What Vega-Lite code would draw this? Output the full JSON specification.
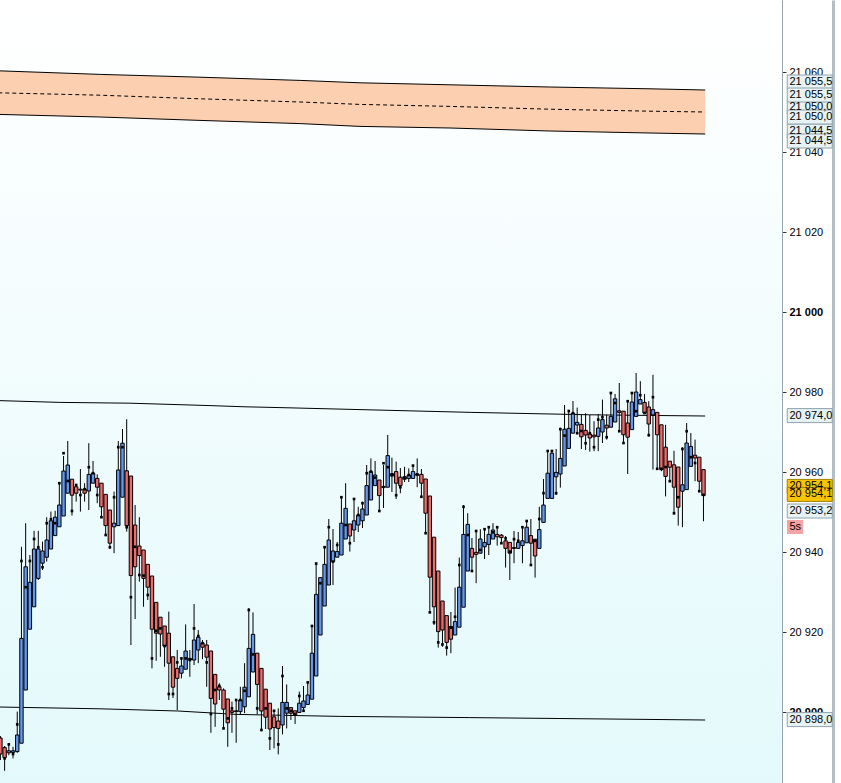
{
  "$schema": "https://vega.github.io/schema/vega-lite/v6.json",
  "width": 782,
  "height": 783,
  "autosize": {"type": "none"},
  "padding": {"left": 0, "top": 0, "right": 59, "bottom": 0},
  "background": "#ffffff",
  "view": {"stroke": null, "fill": {"gradient": "linear", "x1": 0, "y1": 0, "x2": 0, "y2": 1, "stops": [{"offset": 0, "color": "#ffffff"}, {"offset": 1, "color": "#e3f9fb"}]}},
  "config": {
    "axis": {"labelFont": "Liberation Sans", "labelFontSize": 11, "labelColor": "#000000"},
    "text": {"font": "Liberation Sans", "fontSize": 11}
  },
  "datasets": {
    "candles": [
      {"i":0,"o":20893.5,"h":20894,"l":20888,"c":20889.5},
      {"i":1,"o":20891.1,"h":20891.5,"l":20885.3,"c":20888.6,"m":20888.4},
      {"i":2,"o":20889.8,"h":20892.2,"l":20889.2,"c":20890.3,"m":20891.9},
      {"i":3,"o":20889.9,"h":20891.3,"l":20888.4,"c":20890.3,"m":20889.5},
      {"i":4,"o":20890.1,"h":20900.1,"l":20889.8,"c":20894.25,"m":20896.9},
      {"i":5,"o":20892.2,"h":20941.3,"l":20892.2,"c":20918.4,"m":20937.75},
      {"i":6,"o":20905.5,"h":20947.2,"l":20905.5,"c":20936.3,"m":20931.2},
      {"i":7,"o":20920.7,"h":20939.25,"l":20920.7,"c":20932.4,"m":20937.75},
      {"i":8,"o":20926.3,"h":20945.3,"l":20926.3,"c":20940.75,"m":20943.25},
      {"i":9,"o":20933.4,"h":20945.3,"l":20933,"c":20940.75,"m":20941.2},
      {"i":10,"o":20937.2,"h":20942.6,"l":20935.5,"c":20940.25,"m":20936.2},
      {"i":11,"o":20938.7,"h":20948.7,"l":20937.6,"c":20943,"m":20947.2},
      {"i":12,"o":20940.75,"h":20950.1,"l":20940.75,"c":20947.8,"m":20948.2},
      {"i":13,"o":20944.1,"h":20950.3,"l":20944.1,"c":20948.7,"m":20947.2},
      {"i":14,"o":20946.3,"h":20957.2,"l":20946.3,"c":20951.75,"m":20957.2},
      {"i":15,"o":20949,"h":20964,"l":20949,"c":20960.25,"m":20964.7},
      {"i":16,"o":20954.7,"h":20967.75,"l":20954.7,"c":20961.75,"m":20957.75},
      {"i":17,"o":20958.2,"h":20958.2,"l":20949.1,"c":20954.2,"m":20950.25},
      {"i":18,"o":20956.3,"h":20956.75,"l":20952.6,"c":20954.7,"m":20956.75},
      {"i":19,"o":20955.5,"h":20960.75,"l":20950.1,"c":20955.7,"m":20954.25},
      {"i":20,"o":20955.7,"h":20957.2,"l":20952.6,"c":20954.7,"m":20955.7},
      {"i":21,"o":20955.25,"h":20967.2,"l":20950.5,"c":20959.4,"m":20961.2},
      {"i":22,"o":20957.2,"h":20962.75,"l":20957.2,"c":20959.7,"m":20959.7},
      {"i":23,"o":20958.4,"h":20959.4,"l":20952.2,"c":20956.2,"m":20954.25},
      {"i":24,"o":20957.2,"h":20957.2,"l":20948.7,"c":20951.3,"m":20948.7},
      {"i":25,"o":20954.4,"h":20954.4,"l":20944.25,"c":20946.6,"m":20944.25},
      {"i":26,"o":20950.5,"h":20950.5,"l":20940.75,"c":20942.2,"m":20941.2},
      {"i":27,"o":20946.3,"h":20955.1,"l":20939.7,"c":20947.2,"m":20953.7},
      {"i":28,"o":20946.6,"h":20967.75,"l":20946.6,"c":20960.5,"m":20966.2},
      {"i":29,"o":20953.7,"h":20970.75,"l":20953.7,"c":20967.2,"m":20966.2},
      {"i":30,"o":20960.3,"h":20973.2,"l":20945.1,"c":20946.6,"m":20946.2},
      {"i":31,"o":20959,"h":20959,"l":20916.75,"c":20934.1,"m":20928.7},
      {"i":32,"o":20946.75,"h":20951.75,"l":20923.25,"c":20936.3,"m":20941.3},
      {"i":33,"o":20941.5,"h":20948.7,"l":20932.6,"c":20939.1,"m":20934.25},
      {"i":34,"o":20940.5,"h":20940.5,"l":20926.3,"c":20933.4,"m":20934.1},
      {"i":35,"o":20936.9,"h":20936.9,"l":20928,"c":20931.2,"m":20929.25},
      {"i":36,"o":20934,"h":20934,"l":20910.9,"c":20920.7,"m":20913.4},
      {"i":37,"o":20927.4,"h":20927.4,"l":20912.8,"c":20919.7,"m":20920.3},
      {"i":38,"o":20923.7,"h":20923.7,"l":20913.8,"c":20919.5,"m":20920.9},
      {"i":39,"o":20921.5,"h":20921.5,"l":20911.3,"c":20916.5,"m":20916.5},
      {"i":40,"o":20919.7,"h":20925.1,"l":20903,"c":20912.2,"m":20904.5},
      {"i":41,"o":20913.8,"h":20913.8,"l":20903.5,"c":20906.2,"m":20904.5},
      {"i":42,"o":20910.9,"h":20915.5,"l":20900.5,"c":20908.4,"m":20912.4},
      {"i":43,"o":20909.7,"h":20913.4,"l":20908.4,"c":20911.5,"m":20913.4},
      {"i":44,"o":20910.7,"h":20921.9,"l":20910.7,"c":20915.25,"m":20913.4},
      {"i":45,"o":20913.4,"h":20915.5,"l":20908.8,"c":20913,"m":20913},
      {"i":46,"o":20913,"h":20927,"l":20911.75,"c":20918,"m":20920.9},
      {"i":47,"o":20915.5,"h":20920.5,"l":20912.2,"c":20918.7,"m":20919},
      {"i":48,"o":20917.2,"h":20918,"l":20913.2,"c":20916.2,"m":20917.2},
      {"i":49,"o":20916.75,"h":20918,"l":20906.3,"c":20913.7,"m":20912.4},
      {"i":50,"o":20915.25,"h":20915.25,"l":20894.8,"c":20903.4,"m":20899.5},
      {"i":51,"o":20909.4,"h":20909.4,"l":20896.3,"c":20902,"m":20905.5},
      {"i":52,"o":20906.3,"h":20907.2,"l":20903,"c":20905.5,"m":20906.5},
      {"i":53,"o":20905.5,"h":20905.9,"l":20895.9,"c":20900.7,"m":20895.9},
      {"i":54,"o":20903.25,"h":20903.25,"l":20891.3,"c":20897.3,"m":20898.4},
      {"i":55,"o":20900.3,"h":20902.6,"l":20894.8,"c":20899.9,"m":20900.9},
      {"i":56,"o":20900.1,"h":20902.9,"l":20892.3,"c":20900.3,"m":20903},
      {"i":57,"o":20900.1,"h":20906.3,"l":20899.5,"c":20903,"m":20903},
      {"i":58,"o":20901.3,"h":20912.2,"l":20899.7,"c":20906.2,"m":20905.3},
      {"i":59,"o":20903.8,"h":20926,"l":20903.8,"c":20915.9,"m":20925.5},
      {"i":60,"o":20910,"h":20924.9,"l":20910,"c":20919.4,"m":20914.4},
      {"i":61,"o":20914.7,"h":20914.7,"l":20899.4,"c":20906.9,"m":20900.9},
      {"i":62,"o":20910.9,"h":20910.9,"l":20895.75,"c":20900.25,"m":20895.5},
      {"i":63,"o":20905.7,"h":20905.7,"l":20895.75,"c":20898.7,"m":20900.9},
      {"i":64,"o":20902.2,"h":20902.2,"l":20890.5,"c":20895.75,"m":20893.4},
      {"i":65,"o":20898.8,"h":20900.5,"l":20890.9,"c":20896.1,"m":20900.3},
      {"i":66,"o":20897.75,"h":20900.9,"l":20889.4,"c":20895.9,"m":20891.9},
      {"i":67,"o":20896.75,"h":20911.5,"l":20894.4,"c":20902.4,"m":20909},
      {"i":68,"o":20899.7,"h":20906.9,"l":20895.9,"c":20902.4,"m":20900.9},
      {"i":69,"o":20901.1,"h":20901.1,"l":20898,"c":20899.7,"m":20900.3},
      {"i":70,"o":20900.3,"h":20900.3,"l":20897,"c":20899.25,"m":20899.5},
      {"i":71,"o":20899.9,"h":20905.1,"l":20899.9,"c":20902.2,"m":20904},
      {"i":72,"o":20901.1,"h":20906.5,"l":20900,"c":20902.75,"m":20900.3},
      {"i":73,"o":20901.9,"h":20907.4,"l":20901.9,"c":20904.25,"m":20907.4},
      {"i":74,"o":20903.2,"h":20921.5,"l":20903.2,"c":20914.7,"m":20921.5},
      {"i":75,"o":20909,"h":20937.4,"l":20909,"c":20929.4,"m":20937.1},
      {"i":76,"o":20919.25,"h":20933.6,"l":20919.25,"c":20933.6,"m":20932.2},
      {"i":77,"o":20926.5,"h":20941.2,"l":20926.5,"c":20936.9,"m":20941.2},
      {"i":78,"o":20931.75,"h":20948.25,"l":20931.75,"c":20943,"m":20946.2},
      {"i":79,"o":20937.6,"h":20945.75,"l":20931.75,"c":20940.25,"m":20937.6},
      {"i":80,"o":20938.7,"h":20942.5,"l":20938.7,"c":20940.1,"m":20941.75},
      {"i":81,"o":20939.25,"h":20953.7,"l":20939.25,"c":20947.2,"m":20953.7},
      {"i":82,"o":20943.25,"h":20957.2,"l":20943.25,"c":20950.9,"m":20946.75},
      {"i":83,"o":20947,"h":20947,"l":20940.1,"c":20944,"m":20942.2},
      {"i":84,"o":20945.5,"h":20953.4,"l":20942.5,"c":20947.8,"m":20953.25},
      {"i":85,"o":20946.75,"h":20951.3,"l":20945,"c":20949.2,"m":20949.25},
      {"i":86,"o":20947.8,"h":20952.6,"l":20946,"c":20950.75,"m":20952.2},
      {"i":87,"o":20949.25,"h":20961.75,"l":20949.25,"c":20956.6,"m":20959.7},
      {"i":88,"o":20953,"h":20963.4,"l":20953,"c":20960.1,"m":20960.1},
      {"i":89,"o":20956.6,"h":20962.75,"l":20956.6,"c":20959.25,"m":20958.6},
      {"i":90,"o":20958,"h":20958,"l":20950.25,"c":20954.1,"m":20950.25},
      {"i":91,"o":20956.1,"h":20961.75,"l":20951,"c":20956.4,"m":20962.2},
      {"i":92,"o":20956.2,"h":20969.25,"l":20956.2,"c":20964.1,"m":20961.2},
      {"i":93,"o":20959,"h":20963.6,"l":20955,"c":20959.6,"m":20959.25},
      {"i":94,"o":20960.1,"h":20962.6,"l":20953.25,"c":20957.2,"m":20954.2},
      {"i":95,"o":20958.7,"h":20961,"l":20954.7,"c":20956.6,"m":20956.2},
      {"i":96,"o":20958.2,"h":20961.3,"l":20957.5,"c":20958.8,"m":20958.6},
      {"i":97,"o":20958.4,"h":20960.9,"l":20957.5,"c":20959.2,"m":20959.25},
      {"i":98,"o":20958.4,"h":20961.6,"l":20958.4,"c":20960.1,"m":20961.6},
      {"i":99,"o":20959.2,"h":20963.4,"l":20956.2,"c":20959.5,"m":20959.4},
      {"i":100,"o":20959.4,"h":20960.75,"l":20953.8,"c":20957.2,"m":20953.8},
      {"i":101,"o":20958.25,"h":20958.25,"l":20944.7,"c":20949.7,"m":20944.7},
      {"i":102,"o":20954,"h":20954,"l":20924.9,"c":20933.7,"m":20924.9},
      {"i":103,"o":20943.7,"h":20943.7,"l":20921.75,"c":20926.3,"m":20922.4},
      {"i":104,"o":20935.25,"h":20935.25,"l":20916.1,"c":20920.1,"m":20917.4},
      {"i":105,"o":20927.75,"h":20927.75,"l":20916.3,"c":20920.5,"m":20916.9},
      {"i":106,"o":20924.1,"h":20924.1,"l":20914.1,"c":20917.4,"m":20916.1},
      {"i":107,"o":20921.4,"h":20925,"l":20914.7,"c":20918.2,"m":20921.1},
      {"i":108,"o":20919.25,"h":20931.1,"l":20919.25,"c":20922.6,"m":20923.8},
      {"i":109,"o":20921.2,"h":20938.6,"l":20921.2,"c":20931.2,"m":20936.75},
      {"i":110,"o":20926.2,"h":20951.75,"l":20926.2,"c":20944.4,"m":20951.3},
      {"i":111,"o":20935.25,"h":20949.7,"l":20935.25,"c":20946.9,"m":20944.25},
      {"i":112,"o":20940.9,"h":20943.5,"l":20935,"c":20938.7,"m":20935.25},
      {"i":113,"o":20939.9,"h":20945.5,"l":20932.2,"c":20939.4,"m":20945.25},
      {"i":114,"o":20939.7,"h":20945.7,"l":20939.7,"c":20943.25,"m":20940.5},
      {"i":115,"o":20941.3,"h":20945.7,"l":20938.25,"c":20942.4,"m":20945.7},
      {"i":116,"o":20941.9,"h":20946.5,"l":20939.25,"c":20944.4,"m":20946.2},
      {"i":117,"o":20943.25,"h":20947.2,"l":20943.25,"c":20945.5,"m":20944.9},
      {"i":118,"o":20944.4,"h":20946.2,"l":20941.6,"c":20943.8,"m":20946.2},
      {"i":119,"o":20944.2,"h":20944.5,"l":20942.2,"c":20943.6,"m":20942.2},
      {"i":120,"o":20942.8,"h":20944,"l":20936.1,"c":20940.9,"m":20943.4},
      {"i":121,"o":20942.4,"h":20942.4,"l":20933,"c":20939.7,"m":20940.1},
      {"i":122,"o":20940.9,"h":20945.25,"l":20937.2,"c":20941.1,"m":20943.2},
      {"i":123,"o":20940.9,"h":20945,"l":20940.9,"c":20942.4,"m":20942.8},
      {"i":124,"o":20941.6,"h":20946.2,"l":20937.2,"c":20942.8,"m":20946.2},
      {"i":125,"o":20942.3,"h":20948,"l":20942.3,"c":20946.2,"m":20947.75},
      {"i":126,"o":20944.1,"h":20948.25,"l":20936.75,"c":20942.2,"m":20936.75},
      {"i":127,"o":20943.2,"h":20943.2,"l":20933.6,"c":20939,"m":20942.8},
      {"i":128,"o":20940.9,"h":20951.3,"l":20940.9,"c":20945.6,"m":20948.25},
      {"i":129,"o":20947.4,"h":20958.25,"l":20947.4,"c":20951.75,"m":20954.7},
      {"i":130,"o":20953.4,"h":20965.25,"l":20953.4,"c":20959.7,"m":20965.25},
      {"i":131,"o":20953.4,"h":20965.5,"l":20953.4,"c":20964.7,"m":20965.25},
      {"i":132,"o":20958.8,"h":20965.75,"l":20954.25,"c":20959.9,"m":20954.7},
      {"i":133,"o":20959.5,"h":20971.1,"l":20956.1,"c":20963.4,"m":20970.7},
      {"i":134,"o":20961.5,"h":20976.75,"l":20961.5,"c":20970.7,"m":20969.1},
      {"i":135,"o":20965.9,"h":20975.5,"l":20965.9,"c":20970.9,"m":20975.25},
      {"i":136,"o":20969.7,"h":20977.75,"l":20969.7,"c":20974.7,"m":20974.7},
      {"i":137,"o":20971.75,"h":20976.1,"l":20969.5,"c":20972.4,"m":20969.7},
      {"i":138,"o":20971.9,"h":20974.25,"l":20965.75,"c":20968.8,"m":20970.25},
      {"i":139,"o":20970.4,"h":20974.7,"l":20965.5,"c":20969.25,"m":20967.2},
      {"i":140,"o":20969.5,"h":20974.25,"l":20965.1,"c":20968.5,"m":20969.7},
      {"i":141,"o":20969.2,"h":20972.7,"l":20965.2,"c":20968.8,"m":20966.2},
      {"i":142,"o":20968.9,"h":20974.5,"l":20965.2,"c":20971,"m":20973.1},
      {"i":143,"o":20970,"h":20978.1,"l":20967.25,"c":20973.1,"m":20973.7},
      {"i":144,"o":20971.7,"h":20974.3,"l":20968.1,"c":20971,"m":20968.7},
      {"i":145,"o":20971.2,"h":20979.75,"l":20971.2,"c":20973.9,"m":20979.75},
      {"i":146,"o":20972.5,"h":20979.5,"l":20972.5,"c":20978.3,"m":20977.25},
      {"i":147,"o":20975.3,"h":20982.25,"l":20970.2,"c":20974.9,"m":20970.2},
      {"i":148,"o":20975.2,"h":20975.2,"l":20967.25,"c":20969.3,"m":20967.25},
      {"i":149,"o":20972.25,"h":20977.7,"l":20959.5,"c":20968.7,"m":20977.7},
      {"i":150,"o":20970.6,"h":20979.75,"l":20970.6,"c":20977.5,"m":20979.75},
      {"i":151,"o":20973.9,"h":20984.75,"l":20973.9,"c":20980,"m":20975.2},
      {"i":152,"o":20977,"h":20982.7,"l":20977,"c":20978.1,"m":20979.2},
      {"i":153,"o":20977.4,"h":20979.5,"l":20974.75,"c":20974.75,"m":20974.75},
      {"i":154,"o":20976.25,"h":20977.7,"l":20968.9,"c":20972,"m":20969.2},
      {"i":155,"o":20974.3,"h":20984.3,"l":20960.6,"c":20975.6,"m":20978.7},
      {"i":156,"o":20974.9,"h":20974.9,"l":20960.6,"c":20969.3,"m":20960.8},
      {"i":157,"o":20971.8,"h":20971.8,"l":20960.2,"c":20960.6,"m":20960.8},
      {"i":158,"o":20966.2,"h":20971.8,"l":20953.9,"c":20958.9,"m":20961.25},
      {"i":159,"o":20962.7,"h":20962.7,"l":20957.7,"c":20961.2,"m":20957.7},
      {"i":160,"o":20961.8,"h":20965.3,"l":20949.3,"c":20956.2,"m":20949.7},
      {"i":161,"o":20961.25,"h":20961.25,"l":20946.6,"c":20951.2,"m":20953.7},
      {"i":162,"o":20955.2,"h":20966.2,"l":20946.2,"c":20956.8,"m":20965.75},
      {"i":163,"o":20955.6,"h":20972.25,"l":20955.6,"c":20967.25,"m":20970.2},
      {"i":164,"o":20961.4,"h":20969.75,"l":20961.4,"c":20966.4,"m":20963.7},
      {"i":165,"o":20964.2,"h":20968.1,"l":20957.7,"c":20963.5,"m":20962.25},
      {"i":166,"o":20963.7,"h":20963.7,"l":20955.2,"c":20957.7,"m":20955.2},
      {"i":167,"o":20960.6,"h":20960.6,"l":20947.7,"c":20954.1,"m":20954.3}
    ],
    "band": [
      {"i":-0.5,"u":21060.3,"md":21054.8,"lo":21049.4},
      {"i":23.7,"u":21059.4,"md":21054.2,"lo":21048.75},
      {"i":47.4,"u":21058.7,"md":21053.3,"lo":21047.9},
      {"i":71.2,"u":21057.9,"md":21052.5,"lo":21047.1},
      {"i":85.4,"u":21057.3,"md":21051.9,"lo":21046.4},
      {"i":106.8,"u":21056.8,"md":21051.4,"lo":21046.0},
      {"i":130.5,"u":21056.25,"md":21050.7,"lo":21045.25},
      {"i":154.3,"u":21055.8,"md":21050.2,"lo":21044.75},
      {"i":167.4,"u":21055.5,"md":21050.0,"lo":21044.5}
    ],
    "chan": [
      {"g":"up","i":-0.5,"v":20977.85},
      {"g":"up","i":14.2,"v":20977.4},
      {"g":"up","i":30.8,"v":20977.2},
      {"g":"up","i":40.3,"v":20976.9},
      {"g":"up","i":49.8,"v":20976.6},
      {"g":"up","i":58.1,"v":20976.3},
      {"g":"up","i":66.4,"v":20976.1},
      {"g":"up","i":112,"v":20974.9},
      {"g":"up","i":140,"v":20974.3},
      {"g":"up","i":167.4,"v":20974.0},
      {"g":"dn","i":-0.5,"v":20901.25},
      {"g":"dn","i":23.7,"v":20900.8},
      {"g":"dn","i":42.2,"v":20900.25},
      {"g":"dn","i":56,"v":20899.4},
      {"g":"dn","i":80.7,"v":20898.9},
      {"g":"dn","i":111.5,"v":20898.6},
      {"g":"dn","i":167.4,"v":20898.0}
    ],
    "tags": [
      {"p":21051.25,"t":"21 050,0","k":"n"},
      {"p":21045.25,"t":"21 044,5","k":"n"},
      {"p":21057.5,"t":"21 055,5","k":"n"},
      {"p":21054.25,"t":"21 055,5","k":"n"},
      {"p":21048.75,"t":"21 050,0","k":"n"},
      {"p":21042.75,"t":"21 044,5","k":"n"},
      {"p":20974.1,"t":"20 974,0","k":"n"},
      {"p":20956.4,"t":"20 954,1","k":"y"},
      {"p":20954.4,"t":"20 954,1","k":"y"},
      {"p":20950.25,"t":"20 953,2","k":"n"},
      {"p":20898.1,"t":"20 898,0","k":"n"}
    ],
    "small": [
      {"p":20946.25,"t":"5s"}
    ]
  },
  "resolve": {"axis": {"y": "independent"}},
  "layer": [
    {
      "data": {"name": "band"},
      "mark": {"type": "area", "fill": "#fccfb0", "opacity": 1, "clip": true},
      "encoding": {
        "x": {"field": "i", "type": "quantitative", "scale": {"domain": [-0.095, 185.65], "nice": false, "zero": false, "padding": 0}, "axis": null},
        "y": {"field": "u", "type": "quantitative", "scale": {"domain": [20882.25, 21078], "nice": false, "zero": false, "padding": 0},
              "axis": {"orient": "right", "offset": 51, "labels": false, "ticks": false, "grid": false, "title": null, "domainColor": "#b4bec6", "domainWidth": 3}},
        "y2": {"field": "lo"}
      }
    },
    {
      "data": {"name": "band"},
      "mark": {"type": "line", "stroke": "#000000", "strokeWidth": 1, "clip": true},
      "encoding": {
        "x": {"field": "i", "type": "quantitative", "axis": null},
        "y": {"field": "u", "type": "quantitative", "axis": null}
      }
    },
    {
      "data": {"name": "band"},
      "mark": {"type": "line", "stroke": "#000000", "strokeWidth": 1, "clip": true},
      "encoding": {
        "x": {"field": "i", "type": "quantitative", "axis": null},
        "y": {"field": "lo", "type": "quantitative", "axis": null}
      }
    },
    {
      "data": {"name": "band"},
      "mark": {"type": "line", "stroke": "#000000", "strokeWidth": 1, "strokeDash": [4, 3], "clip": true},
      "encoding": {
        "x": {"field": "i", "type": "quantitative", "axis": null},
        "y": {"field": "md", "type": "quantitative", "axis": null}
      }
    },
    {
      "data": {"name": "chan"},
      "mark": {"type": "line", "stroke": "#000000", "strokeWidth": 1, "clip": true},
      "encoding": {
        "x": {"field": "i", "type": "quantitative", "axis": null},
        "y": {"field": "v", "type": "quantitative", "axis": null},
        "detail": {"field": "g"}
      }
    },
    {
      "data": {"name": "candles"},
      "mark": {"type": "rule", "stroke": "#000000", "strokeWidth": 1, "clip": true},
      "encoding": {
        "x": {"field": "i", "type": "quantitative", "axis": null},
        "y": {"field": "l", "type": "quantitative",
              "axis": {"orient": "right", "title": null, "grid": false,
                       "values": [20900, 20920, 20940, 20960, 20980, 21000, 21020, 21040, 21060],
                       "labelExpr": "replace(format(datum.value, ',d'), ',', ' ')",
                       "labelFontWeight": {"condition": {"test": "datum.value % 100 === 0", "value": "bold"}, "value": "normal"},
                       "domainColor": "#98a4ae", "domainWidth": 1, "tickColor": "#333333", "tickSize": 4, "labelPadding": 3}},
        "y2": {"field": "h"}
      }
    },
    {
      "data": {"name": "candles"},
      "mark": {"type": "bar", "size": 3.4, "stroke": "#000000", "strokeWidth": 1, "clip": true},
      "encoding": {
        "x": {"field": "i", "type": "quantitative", "axis": null},
        "y": {"field": "o", "type": "quantitative", "axis": null},
        "y2": {"field": "c"},
        "color": {"condition": {"test": "datum.c >= datum.o", "value": "#6498f0"}, "value": "#ec6b6b"}
      }
    },
    {
      "data": {"name": "candles"},
      "mark": {"type": "point", "shape": "square", "filled": true, "size": 7, "color": "#000000", "opacity": 1, "clip": true},
      "encoding": {
        "x": {"field": "i", "type": "quantitative", "axis": null},
        "y": {"field": "m", "type": "quantitative", "axis": null}
      }
    },
    {
      "data": {"name": "tags"},
      "mark": {"type": "rect", "width": 45, "height": 14, "strokeWidth": 1},
      "encoding": {
        "x": {"datum": 192.24, "type": "quantitative", "axis": null},
        "y": {"field": "p", "type": "quantitative", "axis": null},
        "fill": {"condition": {"test": "datum.k === 'y'", "value": "#f7c600"}, "value": "#e6f2f3"},
        "stroke": {"condition": {"test": "datum.k === 'y'", "value": "#a08000"}, "value": "#8ea2ae"}
      }
    },
    {
      "data": {"name": "tags"},
      "mark": {"type": "text", "align": "left", "baseline": "middle", "color": "#000000", "fontSize": 11},
      "encoding": {
        "x": {"datum": 187.43, "type": "quantitative", "axis": null},
        "y": {"field": "p", "type": "quantitative", "axis": null},
        "text": {"field": "t"}
      }
    },
    {
      "data": {"name": "small"},
      "mark": {"type": "rect", "width": 16, "height": 14, "fill": "#f3a3a3"},
      "encoding": {
        "x": {"datum": 188.74, "type": "quantitative", "axis": null},
        "y": {"field": "p", "type": "quantitative", "axis": null}
      }
    },
    {
      "data": {"name": "small"},
      "mark": {"type": "text", "align": "left", "baseline": "middle", "color": "#000000", "fontSize": 11},
      "encoding": {
        "x": {"datum": 187.43, "type": "quantitative", "axis": null},
        "y": {"field": "p", "type": "quantitative", "axis": null},
        "text": {"field": "t"}
      }
    }
  ]
}
